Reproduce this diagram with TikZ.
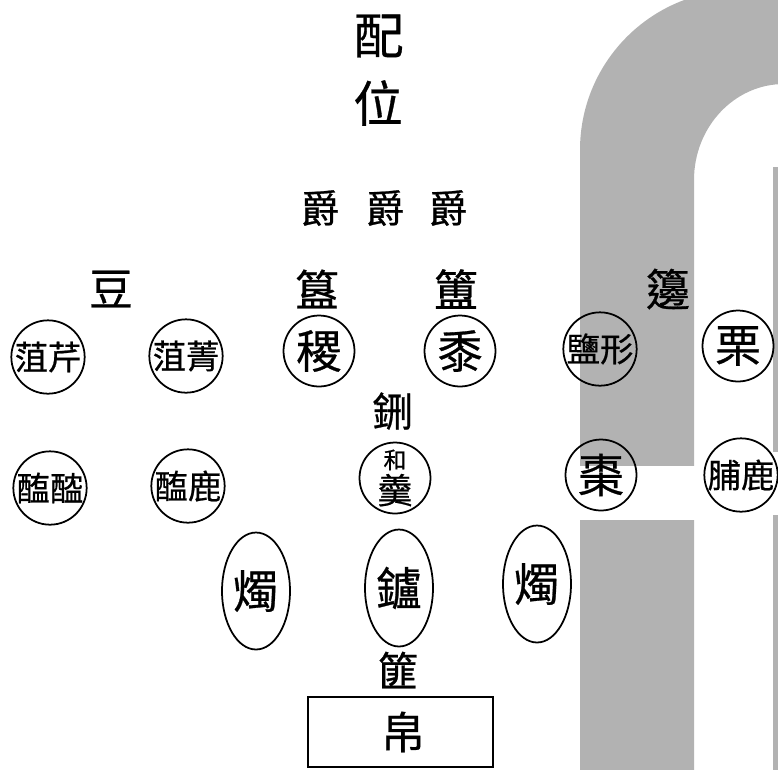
\documentclass[tikz,border=0pt]{standalone}
\usepackage{fontspec}
\usetikzlibrary{shapes.geometric}
\newfontfamily\cjk[FakeBold=0.6]{Noto Sans CJK TC}
\definecolor{bandgray}{RGB}{178,178,178}
\tikzset{
  zi/.style={font=\cjk\fontsize{#1}{#1}\selectfont, inner sep=0pt},
  dish/.style={draw, circle, line width=1pt, minimum size=1.42cm, inner sep=0pt},
  lamp/.style={draw, ellipse, line width=1pt, minimum width=1.36cm, minimum height=2.34cm, inner sep=0pt}
}
\begin{document}
\begin{tikzpicture}[x=0.02cm,y=-0.02cm]
\useasboundingbox (0,0) rectangle (778,769);
\begin{scope}
\clip (0,0) rectangle (778,769);
% grey band
\fill [bandgray] (580,790) -- (580,150) .. controls (580,61.6) and (651.6,-10) .. (740,-10)
  -- (790,-10) -- (790,84) -- (784,84) .. controls (734.3,84) and (694,127) .. (694,180)
  -- (694,790) -- cycle;
\fill [white] (570,466) rectangle (700,520);
\fill [bandgray] (773,167) rectangle (790,452);
\fill [bandgray] (773,515) rectangle (790,790);
\end{scope}
\node [zi=28] (pei) at (379,36) {配};
\node [zi=28] (wei) at (378,103) {位};
\node [zi=22] (jue1) at (320,208) {爵};
\node [zi=22] (jue2) at (385,208) {爵};
\node [zi=22] (jue3) at (448,208) {爵};
\node [zi=25] (dou) at (111,289) {豆};
\node [zi=25] (gui) at (317,289) {簋};
\node [zi=25] (fu) at (456,289) {簠};
\node [zi=25] (bian) at (668,289) {籩};
% first row
\node [dish, zi=19] (qin) at (48,357) {菹芹};
\node [dish, zi=19] (jing) at (186,356) {菹菁};
\node [dish, zi=26] (ji) at (319,351) {稷};
\node [dish, zi=26] (shu) at (460,351) {黍};
\node [dish, zi=19] (yan) at (600,349) {鹽形};
\node [dish, zi=26] (li) at (738,346) {栗};
\node [zi=23] (xing) at (393,411) {鉶};
% second row
\node [dish, zi=19] (tan) at (50,488) {醢醓};
\node [dish, zi=19] (luhai) at (188,486) {醢鹿};
\node [dish, align=center] (geng) at (395,478) {{\cjk\fontsize{13}{13}\selectfont 和}\\[1pt]{\cjk\fontsize{20}{20}\selectfont 羹}};
\node [dish, zi=26] (zao) at (601,475) {棗};
\node [dish, zi=19] (fulu) at (741,475) {脯鹿};
% lamps and censer
\node [lamp, zi=26] (zhu1) at (256,591) {燭};
\node [lamp, zi=26] (lu) at (399,588) {鑪};
\node [lamp, zi=26] (zhu2) at (537,584) {燭};
\node [zi=23] (fei) at (398,670) {篚};
\draw [line width=1pt] (308,767) -- (308,697) -- (493,697) -- (493,767) -- cycle;
\node [zi=25] (bo) at (403,732) {帛};
\end{tikzpicture}
\end{document}
